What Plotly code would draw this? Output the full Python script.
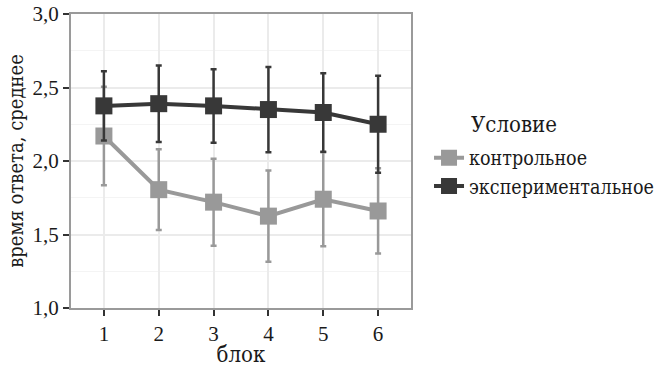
import plotly.graph_objects as go

blocks = [1, 2, 3, 4, 5, 6]
control_mean = [2.17, 1.805, 1.72, 1.625, 1.74, 1.66]
control_err = [0.335, 0.275, 0.296, 0.31, 0.32, 0.29]
exp_mean = [2.375, 2.39, 2.375, 2.35, 2.33, 2.25]
exp_err = [0.235, 0.26, 0.25, 0.29, 0.267, 0.33]
series_names = ["контрольное", "экспериментальное"]
legend_title = "Условие"
y_ticks = [1.0, 1.5, 2.0, 2.5, 3.0]

NUMFONT = "Liberation Serif"
TXTFONT = "DejaVu Serif Condensed, DejaVu Serif"
colors = ["#999999", "#383838"]

fig = go.Figure()
for name, m, e, c in [(series_names[0], control_mean, control_err, colors[0]),
                      (series_names[1], exp_mean, exp_err, colors[1])]:
    fig.add_trace(go.Scatter(
        x=blocks, y=m, name=name, mode="lines+markers",
        line=dict(color=c, width=4),
        marker=dict(symbol="square", size=17, color=c),
        error_y=dict(type="data", array=e, visible=True, color=c, thickness=2.5, width=3),
    ))

fig.add_annotation(
    text=legend_title, xref="paper", yref="paper",
    x=(469 - 71) / 340, y=(308 - 125) / 294, xanchor="left", yanchor="middle",
    showarrow=False, font=dict(size=22, family=TXTFONT, color="#1a1a1a"),
)

fig.update_layout(
    width=658, height=367,
    margin=dict(l=71, r=247, t=14, b=59, autoexpand=False),
    paper_bgcolor="white", plot_bgcolor="white",
    separators=", ",
    font=dict(family=TXTFONT, size=19, color="#1a1a1a"),
    legend=dict(
        x=1.053, xanchor="left", y=(308 - 172) / 294, yanchor="middle",
        font=dict(size=19.5, family=TXTFONT), tracegroupgap=0, itemwidth=30,
    ),
    xaxis=dict(
        range=[0.4, 6.6], tickvals=blocks, ticktext=[str(b) for b in blocks],
        showline=True, linecolor="#9a9a9a", linewidth=2, mirror=True,
        ticks="outside", ticklen=6, tickwidth=2, tickcolor="#333",
        showgrid=True, gridcolor="#ebebeb", gridwidth=1.5, zeroline=False,
        title=dict(text="блок", font=dict(size=22, family=TXTFONT), standoff=0),
        tickfont=dict(size=21, family=NUMFONT),
    ),
    yaxis=dict(
        range=[1.0, 3.0], tickvals=y_ticks, tickformat=".1f",
        showline=True, linecolor="#9a9a9a", linewidth=2, mirror=True,
        ticks="outside", ticklen=6, tickwidth=2, tickcolor="#333",
        showgrid=True, gridcolor="#ebebeb", gridwidth=1.5, zeroline=False,
        minor=dict(dtick=0.25, tick0=1.0, showgrid=True, gridcolor="#f4f4f4", gridwidth=1),
        title=dict(text="время ответа, среднее", font=dict(size=20, family=TXTFONT), standoff=4),
        tickfont=dict(size=21, family=NUMFONT),
    ),
)

fig.write_html("out.html")
